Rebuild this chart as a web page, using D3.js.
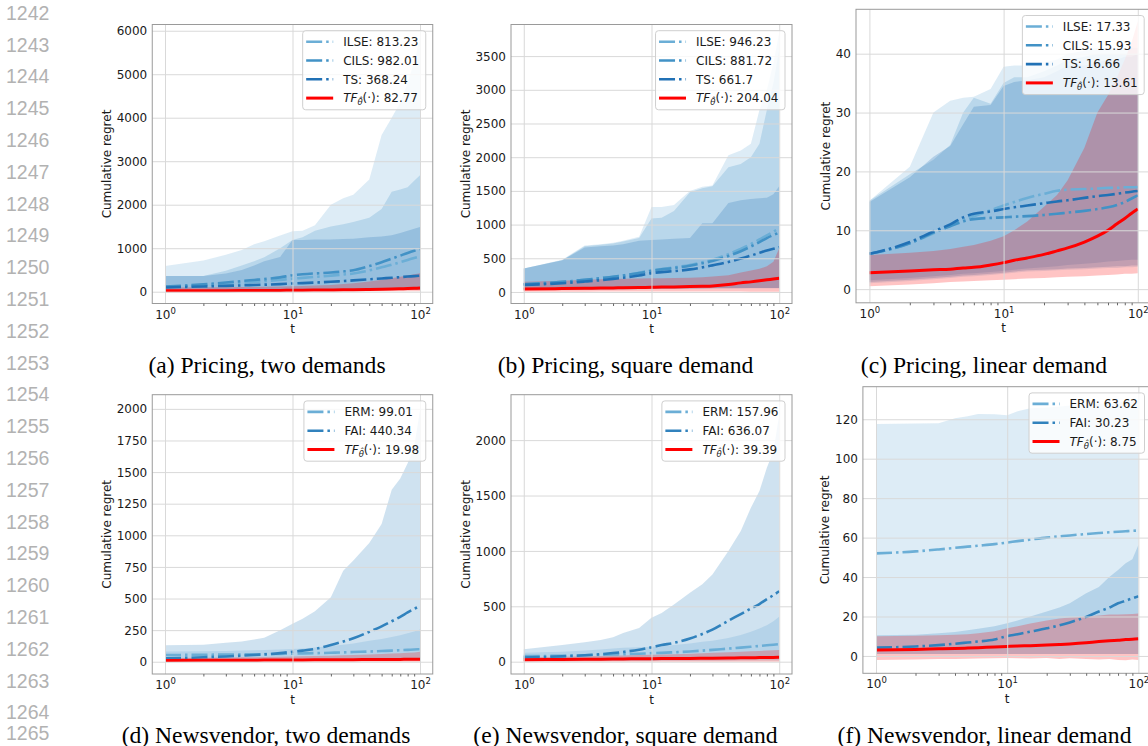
<!DOCTYPE html>
<html>
<head>
<meta charset="utf-8">
<script src="https://cdn.jsdelivr.net/npm/d3@7"></script>
<style>
  body { margin: 0; background: #fff; }
  svg { display: block; }
</style>
</head>
<body>
<svg id="fig" width="1148" height="746"></svg>
<script>
// ---------- data ----------
// rounds at which every curve is sampled
const T = [1, 2, 3, 4, 5, 6, 8, 10, 12, 15, 20, 25, 30, 40, 50, 60, 70, 80, 90, 100];

// (a) Pricing, two demands
const aILSE   = [112, 150, 180, 205, 225, 240, 272, 300, 318, 340, 370, 395, 420, 490, 560, 620, 680, 730, 775, 813.23];
const aILSElo = [20, 22, 24, 25, 26, 27, 28, 30, 30, 31, 32, 33, 34, 35, 36, 37, 38, 39, 40, 40];
const aILSEhi = [590, 720, 850, 960, 1090, 1160, 1290, 1390, 1400, 1530, 2000, 2150, 2230, 2580, 3600, 4000, 4350, 4800, 5300, 5840];
const aCILS   = [118, 170, 210, 245, 270, 290, 330, 379, 400, 420, 440, 465, 495, 590, 675, 760, 830, 890, 940, 982.01];
const aCILSlo = [30, 32, 34, 35, 36, 37, 38, 40, 41, 42, 43, 44, 45, 46, 47, 48, 49, 50, 50, 50];
const aCILShi = [360, 360, 480, 600, 700, 790, 1000, 1190, 1250, 1400, 1500, 1550, 1600, 1700, 1900, 2300, 2350, 2400, 2550, 2680];
const aTS     = [98, 120, 135, 145, 155, 162, 175, 189, 198, 210, 228, 245, 260, 285, 305, 320, 335, 348, 358, 368.24];
const aTSlo   = [25, 27, 28, 29, 30, 31, 32, 33, 34, 35, 36, 37, 38, 39, 40, 41, 42, 43, 44, 45];
const aTShi   = [360, 360, 420, 500, 600, 700, 800, 1190, 1190, 1200, 1200, 1210, 1220, 1250, 1270, 1300, 1350, 1400, 1450, 1490];
const aTF     = [20, 22, 24, 25, 26, 27, 30, 32, 34, 37, 40, 44, 47, 53, 58, 63, 68, 73, 78, 82.77];
const aTFlo   = [3, 3, 4, 4, 4, 5, 5, 5, 6, 6, 6, 7, 7, 8, 8, 9, 9, 10, 10, 10];
const aTFhi   = [95, 100, 105, 108, 110, 112, 118, 125, 132, 140, 155, 175, 195, 235, 275, 310, 345, 375, 400, 425];
const aYTicks = [0, 1000, 2000, 3000, 4000, 5000, 6000];

// (b) Pricing, square demand
const bILSE   = [115, 150, 180, 205, 225, 245, 285, 320, 340, 365, 400, 440, 480, 560, 640, 710, 780, 840, 895, 946.23];
const bILSElo = [30, 32, 34, 36, 38, 40, 42, 44, 46, 48, 50, 52, 54, 56, 58, 60, 60, 60, 60, 60];
const bILSEhi = [350, 480, 690, 710, 730, 760, 820, 1260, 1260, 1290, 1500, 1560, 1580, 2030, 2100, 2200, 2700, 3000, 3400, 3850];
const bCILS   = [115, 150, 180, 205, 225, 245, 280, 315, 335, 355, 390, 425, 460, 535, 605, 675, 740, 800, 845, 881.72];
const bCILSlo = [35, 37, 39, 40, 41, 42, 44, 46, 48, 50, 52, 54, 55, 56, 57, 58, 58, 58, 58, 58];
const bCILShi = [350, 470, 680, 700, 720, 750, 800, 1090, 1100, 1200, 1480, 1540, 1570, 1850, 1900, 2000, 2200, 2700, 3100, 3600];
const bTS     = [105, 130, 155, 175, 195, 210, 245, 280, 295, 310, 335, 365, 395, 445, 495, 540, 580, 615, 640, 661.7];
const bTSlo   = [32, 34, 36, 38, 40, 41, 43, 45, 47, 49, 51, 53, 54, 55, 56, 57, 57, 57, 57, 57];
const bTShi   = [350, 470, 660, 680, 690, 710, 760, 770, 780, 790, 800, 1020, 1020, 1320, 1360, 1380, 1390, 1400, 1450, 1570];
const bTF     = [45, 50, 55, 58, 60, 62, 65, 70, 72, 75, 80, 85, 90, 110, 135, 150, 165, 180, 192, 204.04];
const bTFlo   = [5, 5, 5, 6, 6, 6, 6, 7, 7, 7, 7, 7, 7, 6, 6, 5, 5, 5, 5, 5];
const bTFhi   = [150, 165, 180, 190, 195, 198, 200, 203, 205, 207, 210, 220, 230, 250, 290, 320, 345, 380, 450, 650];
const bYTicks = [0, 500, 1000, 1500, 2000, 2500, 3000, 3500];

// (c) Pricing, linear demand
const cILSE   = [6.0, 7.8, 9.5, 10.8, 11.8, 12.4, 13.4, 14.2, 14.8, 15.5, 16.2, 16.7, 16.9, 17.0, 17.1, 17.2, 17.2, 17.3, 17.3, 17.33];
const cILSElo = [1.0, 1.4, 1.7, 1.9, 2.1, 2.2, 2.4, 2.6, 2.8, 3.0, 3.1, 3.2, 3.3, 3.4, 3.5, 3.6, 3.6, 3.7, 3.7, 3.8];
const cILSEhi = [15, 20.8, 30, 32, 32.5, 32.7, 34, 37.8, 38, 38, 38.5, 39, 40, 40.5, 41, 41, 41, 41, 41, 41];
const cCILS   = [6.0, 7.8, 9.6, 10.7, 11.5, 11.9, 12.1, 12.2, 12.3, 12.4, 12.6, 12.8, 13.0, 13.3, 13.6, 13.9, 14.3, 14.8, 15.4, 15.93];
const cCILSlo = [1.5, 1.9, 2.2, 2.4, 2.6, 2.7, 2.9, 3.1, 3.3, 3.5, 3.7, 3.9, 4.1, 4.3, 4.5, 4.7, 4.8, 4.9, 5.0, 5.0];
const cCILShi = [15, 19.5, 22, 24.5, 30, 32.5, 31.5, 35, 36, 36, 37, 38, 39, 39.5, 40, 40, 40, 40, 40, 40];
const cTS     = [6.0, 8.0, 9.8, 11.0, 12.2, 12.8, 13.2, 13.6, 13.9, 14.2, 14.6, 14.9, 15.1, 15.5, 15.8, 16.0, 16.2, 16.4, 16.55, 16.66];
const cTSlo   = [1.2, 1.6, 1.9, 2.1, 2.3, 2.4, 2.6, 2.8, 3.0, 3.2, 3.3, 3.4, 3.5, 3.6, 3.7, 3.8, 3.9, 3.9, 4.0, 4.0];
const cTShi   = [14.8, 19, 22.5, 24.3, 28, 31, 31.3, 34.5, 35.2, 35.5, 36, 37, 38, 38, 38.5, 39, 39, 39.5, 39.5, 40];
const cTF     = [2.8, 3.1, 3.3, 3.4, 3.6, 3.7, 4.1, 4.5, 4.9, 5.3, 5.9, 6.5, 7.0, 8.0, 9.0, 10.0, 11.1, 12.0, 12.9, 13.61];
const cTFlo   = [0.5, 0.8, 1.0, 1.2, 1.3, 1.4, 1.5, 1.6, 1.7, 1.8, 1.9, 2.0, 2.1, 2.2, 2.3, 2.4, 2.5, 2.6, 2.6, 2.7];
const cTFhi   = [5.8, 6.2, 6.5, 6.8, 7.2, 7.5, 8.2, 9.0, 10, 11.5, 14, 16, 18.5, 24, 30, 33, 36, 39, 42, 45.5];
const cYTicks = [0, 10, 20, 30, 40];

// (d) Newsvendor, two demands
const dERM    = [53, 55, 57, 58, 59, 60, 62, 64, 66, 68, 71, 74, 77, 81, 85, 88, 91, 94, 97, 99.01];
const dERMlo  = [20, 21, 22, 22, 23, 23, 24, 24, 25, 25, 26, 26, 27, 27, 28, 28, 29, 29, 30, 30];
const dERMhi  = [80, 82, 85, 88, 90, 92, 96, 100, 105, 112, 125, 135, 145, 165, 180, 195, 210, 225, 240, 255];
const dFAI    = [27, 35, 42, 48, 53, 58, 68, 79, 88, 102, 132, 160, 185, 237, 280, 320, 355, 390, 418, 440.34];
const dFAIlo  = [5, 5, 6, 6, 6, 7, 7, 7, 8, 8, 8, 9, 9, 9, 10, 10, 10, 10, 10, 10];
const dFAIhi  = [130, 135, 150, 160, 175, 190, 250, 300, 340, 400, 510, 720, 800, 940, 1090, 1360, 1450, 1570, 1700, 1990];
const dTF     = [10, 11, 11.5, 12, 12.5, 13, 13.5, 14, 14.5, 15, 15.5, 16, 16.5, 17, 17.5, 18, 18.5, 19, 19.5, 19.98];
const dTFlo   = [0, 0, 0, 0, 0, 0, 0, 0, 0, 0, 0, 0, 0, 0, 0, 0, 0, 0, 0, 0];
const dTFhi   = [30, 32, 33, 35, 36, 37, 39, 41, 43, 45, 48, 51, 54, 58, 62, 65, 68, 71, 74, 78];
const dYTicks = [0, 250, 500, 750, 1000, 1250, 1500, 1750, 2000];

// (e) Newsvendor, square demand
const eERM    = [50, 54, 58, 62, 65, 68, 72, 77, 80, 85, 92, 100, 107, 118, 127, 135, 142, 148, 153, 157.96];
const eERMlo  = [15, 16, 17, 18, 19, 20, 21, 22, 23, 24, 25, 26, 27, 28, 28, 29, 29, 30, 30, 30];
const eERMhi  = [80, 90, 100, 110, 120, 125, 130, 135, 140, 150, 165, 180, 190, 215, 240, 270, 300, 330, 365, 406];
const eFAI    = [38, 48, 58, 68, 78, 88, 108, 130, 150, 170, 210, 250, 290, 370, 430, 480, 520, 565, 600, 636.07];
const eFAIlo  = [5, 5, 6, 6, 6, 7, 7, 7, 8, 8, 8, 9, 9, 9, 10, 10, 10, 10, 10, 10];
const eFAIhi  = [112, 150, 175, 196, 220, 258, 305, 396, 440, 517, 623, 698, 788, 999, 1180, 1390, 1540, 1750, 1900, 2230];
const eTF     = [18, 20, 22, 23, 24, 25, 26, 27, 28, 29, 30, 31, 32, 34, 35, 36, 37, 38, 38.5, 39.39];
const eTFlo   = [0, 0, 0, 0, 0, 0, 0, 0, 0, 0, 0, 0, 0, 0, 0, 0, 0, 0, 0, 0];
const eTFhi   = [40, 45, 50, 52, 55, 57, 60, 63, 65, 68, 72, 76, 80, 86, 90, 94, 97, 100, 103, 105];
const eYTicks = [0, 500, 1000, 1500, 2000];

// (f) Newsvendor, linear demand
const fERM    = [52, 53, 54, 54.8, 55.4, 55.9, 56.7, 57.5, 58.2, 59, 60, 60.6, 61.1, 61.8, 62.3, 62.7, 63, 63.2, 63.4, 63.62];
const fERMlo  = [1, 1, 1, 1, 1, 1, 1, 1, 1, 1, 1, 1, 1, 1, 1, 1, 1, 1, 1, 1];
const fERMhi  = [117.6, 117.8, 118, 120.5, 121.5, 122.7, 122.5, 122, 124, 125.6, 126, 126.5, 127, 127.5, 128, 128, 128.5, 129, 129, 129.5];
const fFAI    = [4.2, 4.8, 5.5, 6.2, 6.8, 7.3, 8.3, 10.1, 11.0, 12.3, 14, 15.5, 17, 19.8, 22.5, 24.5, 26.7, 28, 29.2, 30.23];
const fFAIlo  = [1, 1, 1, 1, 1, 1, 1, 1, 1, 1, 1, 1, 1, 1, 1, 1, 1, 1, 1, 1];
const fFAIhi  = [10.5, 10.8, 11.5, 12.2, 13, 13.8, 15, 16.6, 18, 20, 22.5, 24.5, 26.7, 31.8, 35, 40, 43.6, 47, 49, 56.3];
const fTF     = [3.0, 3.3, 3.6, 3.8, 4.0, 4.2, 4.5, 4.8, 5.0, 5.2, 5.5, 5.8, 6.1, 6.7, 7.3, 7.7, 8.0, 8.3, 8.5, 8.75];
const fTFlo   = [-2, -1.8, -1.6, -1.5, -1.4, -1.3, -1.2, -1.1, -1.2, -1.3, -1.0, -1.5, -1.2, -1.5, -1.8, -1.6, -2, -2.2, -1.8, -2];
const fTFhi   = [10, 10.2, 10.5, 10.8, 11, 11.5, 12.5, 14, 15, 16.5, 18, 19, 19.5, 20, 20.5, 21, 21, 21.2, 21.3, 21.5];
const fYTicks = [0, 20, 40, 60, 80, 100, 120];

const xMajorTicks = [1, 10, 100];
const xMajorExp = ["0", "1", "2"];
const xMinorTicks = [2, 3, 4, 5, 6, 7, 8, 9, 20, 30, 40, 50, 60, 70, 80, 90];
const lineNumbers = [1242, 1243, 1244, 1245, 1246, 1247, 1248, 1249, 1250, 1251, 1252, 1253,
                     1254, 1255, 1256, 1257, 1258, 1259, 1260, 1261, 1262, 1263, 1264, 1265];

// ---------- styles ----------
const C_LIGHT = "#6baed6", C_MID = "#4292c6", C_DARK = "#2171b5", C_FAI = "#3182bd", C_RED = "#ff0000";
const BAND_ALPHA = 0.23;
const GRID = "#d9d9d9", SPINE = "#9a9a9a", TXT = "#1a1a1a";
const SANS = "'DejaVu Sans', sans-serif";
const SERIF = "'Liberation Serif', 'Times New Roman', serif";
const X_DOMAIN = [Math.pow(10, -0.1), Math.pow(10, 2.1)];

// ---------- panels ----------
const mk = (name, color, mean, lo, hi, dashed) => ({ name, color, mean, lo, hi, dashed });
const panels = [
  { id: "a", box: { l: 152.25, r: 432.75, t: 24.5, b: 303.5 }, yDomain: [-271, 6143], yTicks: aYTicks,
    caption: "(a) Pricing, two demands", capX: 267, capY: 372.5,
    series: [mk("ILSE", C_LIGHT, aILSE, aILSElo, aILSEhi, true), mk("CILS", C_MID, aCILS, aCILSlo, aCILShi, true),
             mk("TS", C_DARK, aTS, aTSlo, aTShi, true), mk("TF", C_RED, aTF, aTFlo, aTFhi, false)] },
  { id: "b", box: { l: 511, r: 792, t: 24.5, b: 303.5 }, yDomain: [-171, 3969], yTicks: bYTicks,
    caption: "(b) Pricing, square demand", capX: 625.5, capY: 372.5,
    series: [mk("ILSE", C_LIGHT, bILSE, bILSElo, bILSEhi, true), mk("CILS", C_MID, bCILS, bCILSlo, bCILShi, true),
             mk("TS", C_DARK, bTS, bTSlo, bTShi, true), mk("TF", C_RED, bTF, bTFlo, bTFhi, false)] },
  { id: "c", box: { l: 856, r: 1151.2, t: 9.3, b: 302.8 }, yDomain: [-2.32, 47.54], yTicks: cYTicks,
    caption: "(c) Pricing, linear demand", capX: 984, capY: 372.5,
    series: [mk("ILSE", C_LIGHT, cILSE, cILSElo, cILSEhi, true), mk("CILS", C_MID, cCILS, cCILSlo, cCILShi, true),
             mk("TS", C_DARK, cTS, cTSlo, cTShi, true), mk("TF", C_RED, cTF, cTFlo, cTFhi, false)] },
  { id: "d", box: { l: 152.25, r: 432.75, t: 394.7, b: 674 }, yDomain: [-97, 2112], yTicks: dYTicks,
    caption: "(d) Newsvendor, two demands", capX: 266, capY: 742.5,
    series: [mk("ERM", C_LIGHT, dERM, dERMlo, dERMhi, true), mk("FAI", C_FAI, dFAI, dFAIlo, dFAIhi, true),
             mk("TF", C_RED, dTF, dTFlo, dTFhi, false)] },
  { id: "e", box: { l: 511, r: 792, t: 394.7, b: 674 }, yDomain: [-111, 2410], yTicks: eYTicks,
    caption: "(e) Newsvendor, square demand", capX: 625.5, capY: 742.5,
    series: [mk("ERM", C_LIGHT, eERM, eERMlo, eERMhi, true), mk("FAI", C_FAI, eFAI, eFAIlo, eFAIhi, true),
             mk("TF", C_RED, eTF, eTFlo, eTFhi, false)] },
  { id: "f", box: { l: 862.9, r: 1151.5, t: 386.7, b: 673.3 }, yDomain: [-8.8, 136.5], yTicks: fYTicks,
    caption: "(f) Newsvendor, linear demand", capX: 984.5, capY: 742.5,
    series: [mk("ERM", C_LIGHT, fERM, fERMlo, fERMhi, true), mk("FAI", C_FAI, fFAI, fFAIlo, fFAIhi, true),
             mk("TF", C_RED, fTF, fTFlo, fTFhi, false)] }
];

const svg = d3.select("#fig");
const defs = svg.append("defs");

// line numbers in the left margin (the last one is kept inside the bottom edge)
svg.append("g").selectAll("text").data(lineNumbers).join("text")
  .attr("x", 6).attr("y", (d, i) => Math.min(19.7 + 31.8 * i, 740))
  .attr("font-family", "'Liberation Sans', Arial, sans-serif").attr("font-size", 19.5)
  .attr("fill", "#b2b2b2").text(d => d);

function styleAxisText(sel) {
  sel.selectAll("text").attr("font-family", SANS).attr("font-size", 12).attr("fill", TXT);
}

function drawPanel(p) {
  const { l, r, t, b } = p.box;
  const x = d3.scaleLog().domain(X_DOMAIN).range([l, r]);
  const y = d3.scaleLinear().domain(p.yDomain).range([b, t]);
  const g = svg.append("g");

  const cid = "clip-" + p.id;
  defs.append("clipPath").attr("id", cid).append("rect")
    .attr("x", l).attr("y", t).attr("width", r - l).attr("height", b - t);
  const plot = g.append("g").attr("clip-path", `url(#${cid})`);

  const rows = s => T.map((tv, i) => ({ t: tv, m: s.mean[i], lo: s.lo[i], hi: s.hi[i] }));

  // spread bands
  const area = d3.area().x(d => x(d.t)).y0(d => y(d.lo)).y1(d => y(d.hi));
  p.series.forEach(s => {
    plot.append("path").datum(rows(s)).attr("d", area)
      .attr("fill", s.color).attr("fill-opacity", BAND_ALPHA).attr("stroke", "none");
  });

  // grid (above the bands, below the lines)
  g.append("g").attr("transform", `translate(${l},0)`)
    .call(d3.axisLeft(y).tickValues(p.yTicks).tickSize(-(r - l)).tickFormat(""))
    .call(a => { a.select(".domain").remove(); a.selectAll("line").attr("stroke", GRID).attr("stroke-width", 1); });
  g.append("g").attr("transform", `translate(0,${b})`)
    .call(d3.axisBottom(x).tickValues(xMajorTicks).tickSize(-(b - t)).tickFormat(""))
    .call(a => { a.select(".domain").remove(); a.selectAll("line").attr("stroke", GRID).attr("stroke-width", 1); });

  // mean curves
  const line = d3.line().x(d => x(d.t)).y(d => y(d.m)).curve(d3.curveMonotoneX);
  p.series.forEach(s => {
    plot.append("path").datum(rows(s)).attr("d", line)
      .attr("fill", "none").attr("stroke", s.color)
      .attr("stroke-width", s.dashed ? 2.6 : 3)
      .attr("stroke-dasharray", s.dashed ? "16,4,2.5,4" : null);
  });

  // frame
  g.append("rect").attr("x", l).attr("y", t).attr("width", r - l).attr("height", b - t)
    .attr("fill", "none").attr("stroke", SPINE).attr("stroke-width", 1);

  // minor ticks on the log axis
  g.append("g").attr("transform", `translate(0,${b})`)
    .call(d3.axisBottom(x).tickValues(xMinorTicks).tickSize(2.5).tickFormat(""))
    .call(a => { a.select(".domain").remove(); a.selectAll("line").attr("stroke", "#666"); });

  // x tick labels 10^k
  const xl = g.append("g").attr("transform", `translate(0,${b})`)
    .call(d3.axisBottom(x).tickValues(xMajorTicks).tickSize(0).tickFormat(""));
  xl.select(".domain").remove();
  xl.selectAll(".tick").each(function (d, i) {
    const tx = d3.select(this).append("text").attr("y", 15).attr("text-anchor", "middle")
      .attr("font-family", SANS).attr("font-size", 12).attr("fill", TXT);
    tx.append("tspan").text("10");
    tx.append("tspan").attr("font-size", 8.5).attr("dy", -5).text(xMajorExp[i]);
  });

  // y axis labels (plain integers, no thousands separator)
  const ya = g.append("g").attr("transform", `translate(${l},0)`)
    .call(d3.axisLeft(y).tickValues(p.yTicks).tickSize(0).tickPadding(5).tickFormat(d3.format("d")));
  ya.select(".domain").remove();
  styleAxisText(ya);
  ya.selectAll("text").attr("dy", "0.34em");
  let minX = Infinity;
  ya.selectAll("text").each(function () { minX = Math.min(minX, this.getBBox().x + l); });

  // axis titles
  g.append("text").attr("x", x(10)).attr("y", b + 29.5)
    .attr("text-anchor", "middle").attr("font-family", SANS).attr("font-size", 12).attr("fill", TXT).text("t");
  const cy = (t + b) / 2;
  g.append("text").attr("transform", `translate(${minX - 5.5},${cy}) rotate(-90)`)
    .attr("text-anchor", "middle").attr("font-family", SANS).attr("font-size", 12).attr("fill", TXT)
    .text("Cumulative regret");

  // legend
  const n = p.series.length, rowH = 18.8;
  const H = 22.7 + (n - 1) * rowH;
  const lg = g.append("g");
  const frame = lg.append("rect");
  const labels = p.series.map(s => {
    const last = s.mean[s.mean.length - 1];
    const tx = lg.append("text").attr("font-family", SANS).attr("font-size", 12).attr("fill", TXT);
    if (s.name === "TF") {
      tx.append("tspan").attr("font-style", "italic").text("TF");
      tx.append("tspan").attr("font-style", "italic").attr("font-size", 8.5).attr("dy", 3).text("\u03B8\u0302");
      tx.append("tspan").attr("dy", -3).text("(\u00B7): " + last);
    } else {
      tx.text(s.name + ": " + last);
    }
    return tx;
  });
  const W = d3.max(labels, tx => tx.node().getComputedTextLength());
  const width = 3.5 + 27 + 10 + W + 6.5;
  const left = r - 7 - width, top = t + 6.2;
  frame.attr("x", left).attr("y", top).attr("width", width).attr("height", H).attr("rx", 3)
    .attr("fill", "#fff").attr("fill-opacity", 0.8).attr("stroke", "#cfcfcf").attr("stroke-width", 1);
  p.series.forEach((s, i) => {
    const ry = top + 11 + i * rowH;
    lg.append("line").attr("x1", left + 3.5).attr("x2", left + 30.5).attr("y1", ry).attr("y2", ry)
      .attr("stroke", s.color).attr("stroke-width", s.dashed ? 2.6 : 3)
      .attr("stroke-dasharray", s.dashed ? "16,4,2.5,4" : null);
    labels[i].attr("x", left + 40.5).attr("y", ry + 4.3);
  });

  // caption
  svg.append("text").attr("x", p.capX).attr("y", p.capY).attr("text-anchor", "middle")
    .attr("font-family", SERIF).attr("font-size", 23.6).attr("fill", "#000").text(p.caption);
}

panels.forEach(drawPanel);
</script>
</body>
</html>
